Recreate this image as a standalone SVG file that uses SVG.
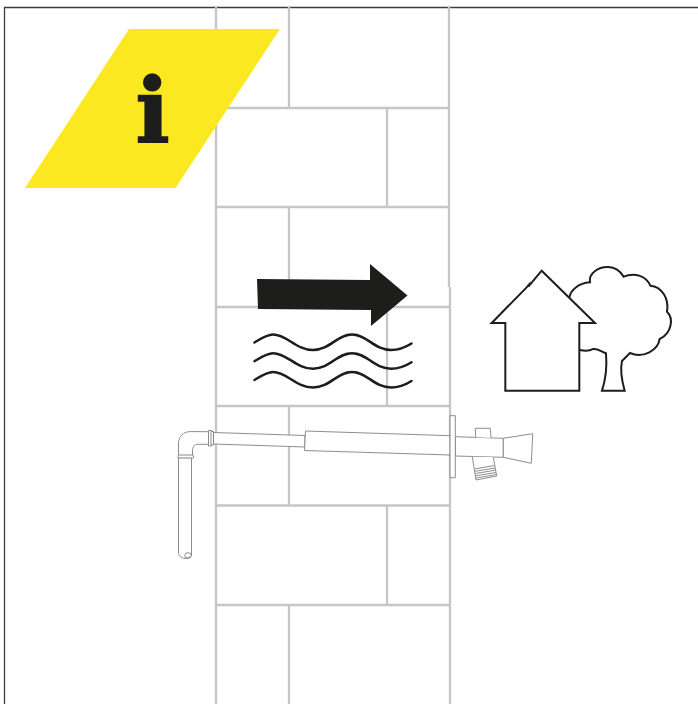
<svg xmlns="http://www.w3.org/2000/svg" width="698" height="704" viewBox="0 0 698 704">
<style>
.wall{fill:none;stroke:#c6c6c6;stroke-width:2.300}
.pipe{fill:#fff;stroke:#808080;stroke-width:.9;stroke-linejoin:round}
.thin{fill:none;stroke:#808080;stroke-width:.9}
.wave{fill:none;stroke:#1d1d1b;stroke-width:2.500;stroke-linecap:round}
.line{fill:#fff;stroke:#1d1d1b;stroke-width:6}
</style>
<defs>
<path id="wave" d="M254.500 342.500C262 338 267 334.500 273 334.500C287 334.500 296 350 313 350C330 350 337 334.500 352 334.500C367 334.500 374 350 391 350C400 350 406 347 411.500 343.500"/>
</defs>
<rect width="698" height="704" fill="#fff"/>
<path id="frame" d="M4.500 704V7.500H698" fill="none" stroke="#3c3c3b" stroke-width="1.300"/>
<g id="wall">
<path class="wall" d="M216 6V704M449 6V287M450 287V704"/>
<path class="wall" d="M216 108H449M216 207H449M216 307H450M216 406H450M216 505.500H450M216 605H450"/>
<path class="wall" d="M289 7V108M387 108V207M289 207V307M387 307V406M289 406V505.500M387 505.500V605M289 605V704"/>
</g>
<g id="info-badge">
<polygon points="129,29 280,29 175.500,188 25,188" fill="#fbe821"/>
<text x="152.500" y="142.300" font-family="'DejaVu Serif',serif" font-weight="700" font-size="90" text-anchor="middle" fill="#1d1d1b" stroke="#1d1d1b" stroke-width="1.600">i</text>
</g>
<g id="heat-arrow">
<polygon points="257,279 370,280 370,264 407.500,295.500 371,326 371,310 258,309" fill="#1d1d1b"/>
</g>
<g id="waves">
<use href="#wave" class="wave"/>
<use href="#wave" class="wave" y="18.700"/>
<use href="#wave" class="wave" y="37.500"/>
</g>
<g id="tree" transform="translate(480 255) scale(.3333)">
<path class="line" d="M268 128C272 105 295 85 330 82C325 55 355 35 385 36C405 37 422 50 431 65C465 50 500 65 511 92C545 95 568 130 561 170C582 190 575 235 539 252C535 285 490 312 450 294L426 318C420 345 425 375 434 407H366C378 370 382 340 378 295C365 292 355 280 340 282C325 290 312 288 300 285"/>
</g>
<g id="house" transform="translate(480 255) scale(.3333)">
<path class="line" d="M185 47L345 204H298V407H76V204H35L137 100L146 90L145 95Z"/>
</g>
<g id="flue">
<path class="pipe" d="M178.500 456V443C179 436 183 432 190 431.600L209 431.700V444.300H198C194 444.500 192.500 447 192.500 451V456Z"/>
<rect class="pipe" x="178" y="455" width="15.500" height="3.300" rx="1"/>
<path class="pipe" d="M178.500 458V552C178.500 556 181 558 185 558.500C188 558 190 557 191.500 555.500V458Z"/>
<ellipse class="thin" cx="188" cy="555.500" rx="3.300" ry="2.800"/>
<path class="pipe" d="M213.500 432.500L305 435.500V447L213.500 444Z"/>
<rect class="pipe" x="208.500" y="430.500" width="3" height="15.500"/>
<rect class="pipe" x="211" y="431.500" width="2.500" height="13.500"/>
<path class="pipe" d="M305.500 431L450 435.700V455L304.500 450.500Z"/>
<path class="pipe" d="M455.300 436.700L503.300 438.300V457.300L455.300 456Z"/>
<rect class="pipe" x="450" y="415.700" width="5.300" height="62"/>
<path class="pipe" d="M475.700 437.300L475.300 428.300H490.300L491 437.700"/>
<path class="pipe" d="M472.300 456.700L476 480L496.700 476L493.300 457.300"/>
<path class="thin" d="M474.500 469L494.500 465.500M475 471.300L495 468M475.300 473.500L495.500 470.200M475.700 475.800L496 472.500M476 478L496.300 474.600"/>
<path class="pipe" d="M503.300 438.300L532.700 433.700L531.300 463.300L503.300 457.300Z"/>
</g>
</svg>
